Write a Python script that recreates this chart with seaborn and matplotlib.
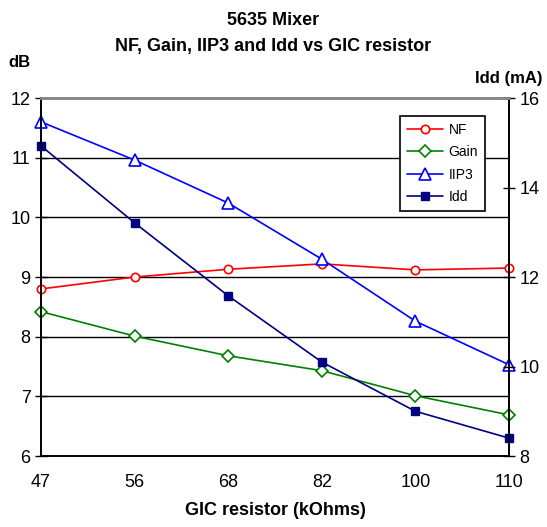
import numpy as np
import pandas as pd
import matplotlib
matplotlib.use("Agg")
import matplotlib.pyplot as plt
import seaborn as sns

resistor = ["47", "56", "68", "82", "100", "110"]
nf = [8.80, 9.00, 9.13, 9.22, 9.12, 9.15]
gain = [8.42, 8.01, 7.68, 7.43, 7.01, 6.69]
iip3 = [11.60, 10.96, 10.24, 9.30, 8.26, 7.53]
idd = [14.93, 13.21, 11.58, 10.10, 9.00, 8.40]

sns.set_style("white")
plt.rcParams['font.family'] = ['Liberation Sans', 'DejaVu Sans']
plt.rcParams['text.color'] = 'black'
plt.rcParams['axes.labelcolor'] = 'black'
plt.rcParams['xtick.color'] = 'black'
plt.rcParams['ytick.color'] = 'black'

pos = np.arange(len(resistor))
df = pd.DataFrame({"pos": pos, "NF": nf, "Gain": gain, "IIP3": iip3, "Idd": idd})

fig = plt.figure(figsize=(5.47, 5.27), dpi=100)
ax = fig.add_axes([0.075, 0.1347, 0.8555, 0.6793])
ax2 = ax.twinx()

# horizontal grid lines
for yv in range(7, 12):
    ax.axhline(yv, color="black", lw=1.0, zorder=0)

sns.lineplot(data=df, x="pos", y="NF", ax=ax, color="#ff0000", marker="o", markersize=6,
             markerfacecolor="white", markeredgecolor="#ff0000", markeredgewidth=1.2, lw=1.2,
             label="NF", legend=False, clip_on=False)
sns.lineplot(data=df, x="pos", y="Gain", ax=ax, color="#008000", marker="D", markersize=6,
             markerfacecolor="white", markeredgecolor="#008000", markeredgewidth=1.2, lw=1.2,
             label="Gain", legend=False, clip_on=False)
sns.lineplot(data=df, x="pos", y="IIP3", ax=ax, color="#0000ff", marker="^", markersize=8,
             markerfacecolor="white", markeredgecolor="#0000ff", markeredgewidth=1.2, lw=1.2,
             label="IIP3", legend=False, clip_on=False)
sns.lineplot(data=df, x="pos", y="Idd", ax=ax2, color="#000080", marker="s", markersize=6,
             markerfacecolor="#000080", markeredgecolor="#000080", markeredgewidth=1.0, lw=1.2,
             label="Idd", legend=False, clip_on=False)

ax.set_xlim(0, 5)
ax.set_ylim(6, 12)
ax2.set_ylim(8, 16)
ax.set_xticks(pos)
ax.set_xticklabels(resistor)
ax.set_yticks(range(6, 13))
ax2.set_yticks(range(8, 17, 2))
ax.set_xlabel("GIC resistor (kOhms)", fontsize=13, fontweight="bold", labelpad=8)
ax.set_ylabel("")
ax2.set_ylabel("")

for a in (ax, ax2):
    a.tick_params(labelsize=13, length=5, width=1, color="black", labelcolor="black", direction="out")
    for s in a.spines.values():
        s.set_color("black")
        s.set_linewidth(1.2)
    a.spines["top"].set_color("#888888")
    a.spines["top"].set_linewidth(2)
ax.tick_params(axis="x", pad=8)
ax.tick_params(axis="y", direction="inout", length=8)
ax2.tick_params(axis="y", direction="inout", length=8)

fig.text(0.035, 0.872, "dB", fontsize=12, fontweight="bold", ha="center")
fig.text(0.93, 0.843, "Idd (mA)", fontsize=12, fontweight="bold", ha="center")
fig.suptitle("5635 Mixer\nNF, Gain, IIP3 and Idd vs GIC resistor", fontsize=13,
             fontweight="bold", y=0.978, linespacing=1.7)

h1, l1 = ax.get_legend_handles_labels()
h2, l2 = ax2.get_legend_handles_labels()
leg = ax2.legend(h1 + h2, l1 + l2, loc="upper left", bbox_to_anchor=(0.767, 0.95),
                 borderaxespad=0, fontsize=10, frameon=True, fancybox=False, framealpha=1,
                 edgecolor="black", handlelength=2.6, handletextpad=0.4, borderpad=0.5,
                 labelspacing=0.6)
leg.get_frame().set_linewidth(1.2)
leg.set_zorder(10)

fig.savefig("out.png", dpi=100)
